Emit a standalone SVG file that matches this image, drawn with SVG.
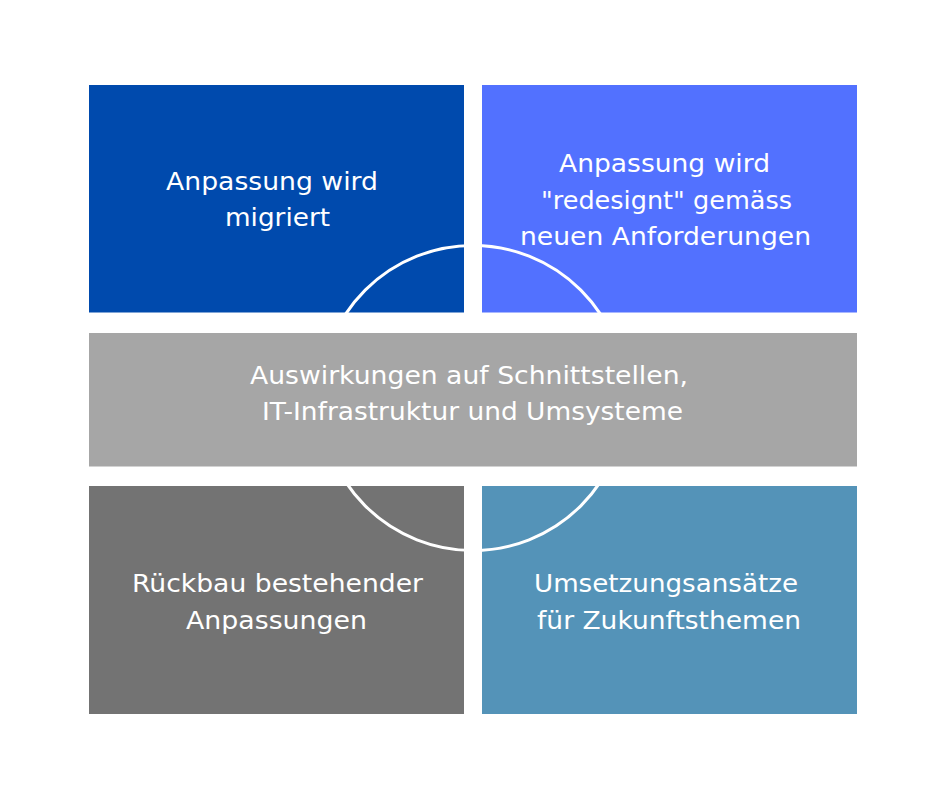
<svg xmlns="http://www.w3.org/2000/svg" width="940" height="788" viewBox="0 0 940 788">
<style>
.lbl{font-family:"DejaVu Sans","Open Sans",sans-serif;font-size:25px;fill:#ffffff;}
.ring{fill:none;stroke:#ffffff;stroke-width:3;}
</style>
<rect width="940" height="788" fill="#ffffff"/>
<g id="node-migriert">
<rect x="89" y="85" width="375" height="227.5" fill="#004aad"/>
</g>
<g id="node-redesign">
<rect x="482" y="85" width="375" height="227.5" fill="#5271ff"/>
</g>
<g id="node-rueckbau">
<rect x="89" y="486" width="375" height="228" fill="#737373"/>
</g>
<g id="node-zukunft">
<rect x="482" y="486" width="375" height="228" fill="#5493b8"/>
</g>
<g id="connectors">
<circle class="ring" cx="473" cy="398" r="152.5"/>
</g>
<g id="node-auswirkungen">
<rect x="89" y="333" width="768" height="133.5" fill="#a6a6a6"/>
</g>
<g id="labels">
<text class="lbl" x="166" y="190" textLength="212" lengthAdjust="spacingAndGlyphs">Anpassung wird</text>
<text class="lbl" x="225" y="226" textLength="105" lengthAdjust="spacingAndGlyphs">migriert</text>
<text class="lbl" x="559" y="172" textLength="211" lengthAdjust="spacingAndGlyphs">Anpassung wird</text>
<text class="lbl" x="541" y="208.5" textLength="251" lengthAdjust="spacingAndGlyphs">"redesignt" gemäss</text>
<text class="lbl" x="520" y="245" textLength="291" lengthAdjust="spacingAndGlyphs">neuen Anforderungen</text>
<text class="lbl" x="250" y="384" textLength="438" lengthAdjust="spacingAndGlyphs">Auswirkungen auf Schnittstellen,</text>
<text class="lbl" x="262" y="420" textLength="421" lengthAdjust="spacingAndGlyphs">IT-Infrastruktur und Umsysteme</text>
<text class="lbl" x="132" y="592" textLength="291" lengthAdjust="spacingAndGlyphs">Rückbau bestehender</text>
<text class="lbl" x="186" y="629" textLength="181" lengthAdjust="spacingAndGlyphs">Anpassungen</text>
<text class="lbl" x="534" y="592" textLength="264" lengthAdjust="spacingAndGlyphs">Umsetzungsansätze</text>
<text class="lbl" x="537" y="629" textLength="264" lengthAdjust="spacingAndGlyphs">für Zukunftsthemen</text>
</g>
</svg>
